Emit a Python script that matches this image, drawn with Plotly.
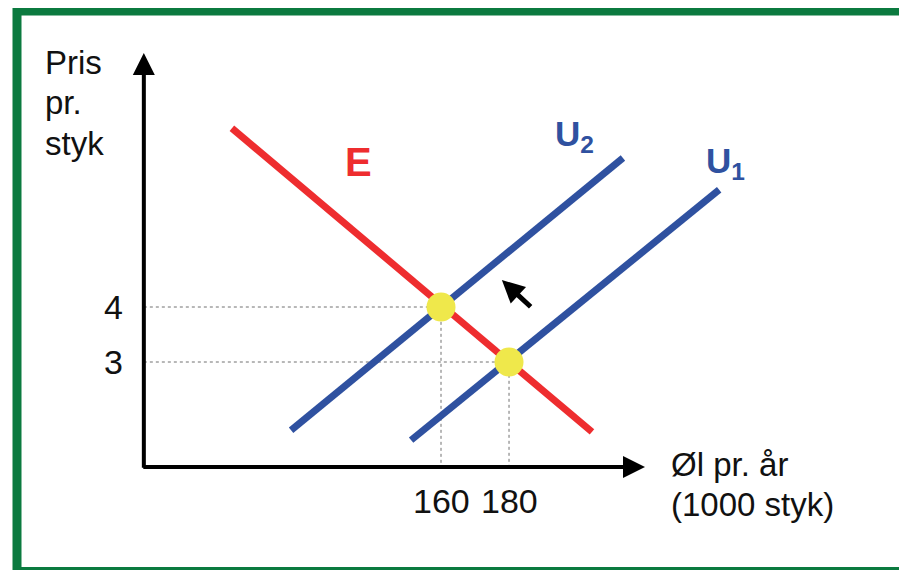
import plotly.graph_objects as go

# price levels / quantities at the two equilibria
prices = [4, 3]
quantities = [160, 180]
price_labels = ["4", "3"]
qty_labels = ["160", "180"]

# curve endpoints (x = 1000 stk, y = pris)
E_x = [98.5, 204.4]
E_y = [7.25, 1.73]
U2_x = [115.9, 213.5]
U2_y = [1.76, 6.71]
U1_x = [151.2, 241.8]
U1_y = [1.58, 6.13]

# axis origin and arrow ends
x0, y0 = 72.6, 1.09
x_end, y_end = 220.0, 8.62

# shift arrow (tail -> tip)
shift_tail = [186.8, 3.98]
shift_tip = [177.9, 4.49]

ylabel_lines = ["Pris", "pr.", "styk"]
xlabel_lines = ["Øl pr. år", "(1000 styk)"]

red = "#EE2D2F"
blue = "#2F51A0"
yellow = "#EFE84B"
font = "Liberation Sans, Arial, sans-serif"
txt = "#111111"

fig = go.Figure()

# dotted guide lines
for q, p in zip(quantities, prices):
    fig.add_trace(go.Scatter(x=[x0, q, q], y=[p, p, y0], mode="lines",
                             line=dict(color="#707070", width=1, dash="dot"),
                             hoverinfo="skip"))

fig.add_trace(go.Scatter(x=E_x, y=E_y, mode="lines", line=dict(color=red, width=7), name="E"))
fig.add_trace(go.Scatter(x=U2_x, y=U2_y, mode="lines", line=dict(color=blue, width=7), name="U2"))
fig.add_trace(go.Scatter(x=U1_x, y=U1_y, mode="lines", line=dict(color=blue, width=7), name="U1"))

fig.add_trace(go.Scatter(x=quantities, y=prices, mode="markers",
                         marker=dict(color=yellow, size=29, line=dict(width=0))))

ann = []
# axes with arrows
ann.append(dict(x=x0, y=y_end, ax=x0, ay=y0 - 0.04, xref="x", yref="y", axref="x", ayref="y",
                showarrow=True, arrowhead=2, arrowsize=1.1, arrowwidth=4, arrowcolor="black", text=""))
ann.append(dict(x=x_end, y=y0, ax=x0 - 0.6, ay=y0, xref="x", yref="y", axref="x", ayref="y",
                showarrow=True, arrowhead=2, arrowsize=1.1, arrowwidth=4, arrowcolor="black", text=""))
ann.append(dict(x=shift_tip[0], y=shift_tip[1], ax=shift_tail[0], ay=shift_tail[1],
                xref="x", yref="y", axref="x", ayref="y",
                showarrow=True, arrowhead=2, arrowsize=0.9, arrowwidth=5, arrowcolor="black", text=""))

for p, t in zip(prices, price_labels):
    ann.append(dict(x=63.8, y=p, text=t, showarrow=False, font=dict(size=34, color=txt)))
for q, t in zip(quantities, qty_labels):
    ann.append(dict(x=q, y=0.48, text=t, showarrow=False, font=dict(size=34, color=txt)))

for i, t in enumerate(xlabel_lines):
    ann.append(dict(x=227.0, y=1.145 - i * 0.73, text=t, showarrow=False,
                    xanchor="left", font=dict(size=33, color=txt)))
for i, t in enumerate(ylabel_lines):
    ann.append(dict(x=43.0, y=8.44 - i * 0.73, text=t, showarrow=False,
                    xanchor="left", font=dict(size=33, color=txt)))

ann.append(dict(x=135.6, y=6.64, text="<b>E</b>", showarrow=False, font=dict(size=40, color=red)))
ann.append(dict(x=199.4, y=7.11, text="<b>U<sub>2</sub></b>", showarrow=False, font=dict(size=35, color=blue)))
ann.append(dict(x=243.8, y=6.62, text="<b>U<sub>1</sub></b>", showarrow=False, font=dict(size=35, color=blue)))

fig.update_layout(
    width=907, height=570,
    margin=dict(l=0, r=0, t=0, b=0),
    paper_bgcolor="white", plot_bgcolor="white",
    showlegend=False,
    font=dict(family=font),
    xaxis=dict(range=[32.65, 299.4], visible=False, fixedrange=True),
    yaxis=dict(range=[-0.927, 9.436], visible=False, fixedrange=True),
    annotations=ann,
    shapes=[dict(type="rect", xref="paper", yref="paper",
                 x0=9 / 907, x1=1.05, y0=6.5 / 570, y1=1 - 3 / 570,
                 line=dict(color="#0B7A3F", width=9))],
)

fig.write_html("out.html")
